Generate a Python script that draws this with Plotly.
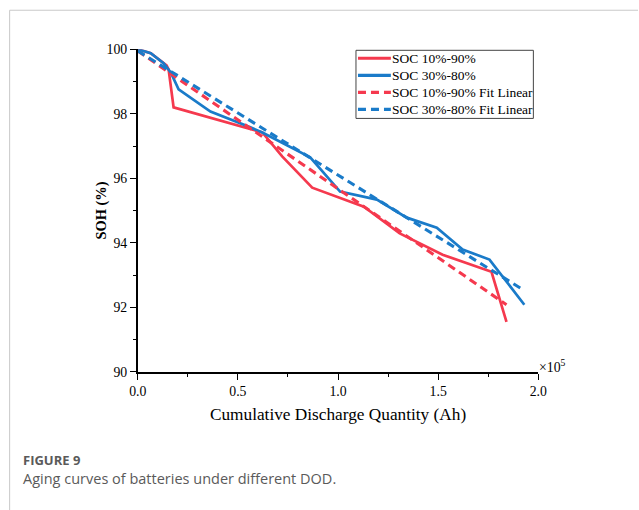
import plotly.graph_objects as go

# The page keeps an 8 px body margin and the capture is reduced to the window,
# so layout positions are given in window pixels and converted here.
OFF = 8
KX, KY = 639 / 655, 510 / 526
W, H = 647, 518
FS = 1 / ((KX + KY) / 2)  # font scale


def px(x):
    """Window x pixel -> paper fraction."""
    return (x / KX - OFF) / W


def py(y):
    """Window y pixel (from top) -> paper fraction."""
    return 1 - (y / KY - OFF) / H


# Cumulative discharge quantity (x 10^5 Ah) and state of health (%)
q_10_90 = [0.0, 0.065, 0.144, 0.154, 0.179, 0.622, 0.721, 0.871, 1.129, 1.308, 1.522, 1.766, 1.841]
soh_10_90 = [100.0, 99.88, 99.50, 99.38, 98.20, 97.42, 96.68, 95.71, 95.12, 94.29, 93.63, 93.10, 91.55]

q_30_80 = [0.0, 0.065, 0.129, 0.164, 0.204, 0.363, 0.562, 0.622, 0.861, 1.010, 1.194, 1.343, 1.493, 1.622, 1.756, 1.930]
soh_30_80 = [100.0, 99.88, 99.57, 99.29, 98.76, 98.07, 97.58, 97.42, 96.65, 95.59, 95.34, 94.78, 94.47, 93.79, 93.48, 92.08]

# Linear fit end points
fit_q_10_90 = [0.0, 1.841]
fit_soh_10_90 = [99.95, 92.08]
fit_q_30_80 = [0.0, 1.930]
fit_soh_30_80 = [99.95, 92.52]

names = ["SOC 10%-90%", "SOC 30%-80%", "SOC 10%-90% Fit Linear", "SOC 30%-80% Fit Linear"]

RED = "#F5394E"
BLUE = "#1A7BC9"
DASH = "8px,5px"

fig = go.Figure()
fig.add_trace(go.Scatter(x=q_10_90, y=soh_10_90, mode="lines", name=names[0],
                         line=dict(color=RED, width=2.7)))
fig.add_trace(go.Scatter(x=q_30_80, y=soh_30_80, mode="lines", name=names[1],
                         line=dict(color=BLUE, width=2.7)))
fig.add_trace(go.Scatter(x=fit_q_10_90, y=fit_soh_10_90, mode="lines", name=names[2],
                         line=dict(color=RED, width=3.1, dash=DASH)))
fig.add_trace(go.Scatter(x=fit_q_30_80, y=fit_soh_30_80, mode="lines", name=names[3],
                         line=dict(color=BLUE, width=3.1, dash=DASH)))

serif = "Liberation Serif, Times New Roman, serif"
sans = "Open Sans, sans-serif"

fig.update_layout(
    width=W, height=H,
    margin=dict(l=0, r=0, t=0, b=0),
    paper_bgcolor="white", plot_bgcolor="white",
    font=dict(family=serif, size=13.4 * FS, color="black"),
    showlegend=False,
    xaxis=dict(
        domain=[px(137), px(539)], range=[0, 2.0],
        showline=True, linecolor="black", linewidth=1.5,
        showgrid=False, zeroline=False,
        ticks="outside", ticklen=6, tickwidth=1.2, tickcolor="black",
        tickvals=[0, 0.5, 1.0, 1.5, 2.0], tickformat=".1f",
        minor=dict(tickvals=[0.25, 0.75, 1.25, 1.75], ticks="outside", ticklen=3, tickcolor="black"),
        tickfont=dict(family=serif, size=13.4 * FS),
        title=dict(text="Cumulative Discharge Quantity (Ah)", font=dict(family=serif, size=16.8 * FS), standoff=10),
    ),
    yaxis=dict(
        domain=[py(372), py(50)], range=[90, 100],
        showline=True, linecolor="black", linewidth=1.5,
        showgrid=False, zeroline=False,
        ticks="outside", ticklen=6, tickwidth=1.2, tickcolor="black",
        tickvals=[90, 92, 94, 96, 98, 100],
        minor=dict(tickvals=[91, 93, 95, 97, 99], ticks="outside", ticklen=3, tickcolor="black"),
        tickfont=dict(family=serif, size=13.4 * FS),
    ),
)

# Y axis title, set just left of the tick label column
fig.add_annotation(x=px(101), y=py(211), xref="paper", yref="paper",
                   text="<b>SOH (%)</b>", showarrow=False, textangle=-90,
                   xanchor="center", yanchor="middle",
                   font=dict(family=serif, size=14 * FS, color="black"))

# Legend box with line samples and labels
fig.add_shape(type="rect", xref="paper", yref="paper",
              x0=px(356), x1=px(534), y0=py(119), y1=py(51),
              line=dict(color="#444", width=1), fillcolor="white", layer="above")
legend_rows = [59, 76, 93, 110]
legend_styles = [(RED, "solid"), (BLUE, "solid"), (RED, DASH), (BLUE, DASH)]
for name, yrow, (col, dsh) in zip(names, legend_rows, legend_styles):
    fig.add_shape(type="line", xref="paper", yref="paper",
                  x0=px(358), x1=px(391), y0=py(yrow), y1=py(yrow),
                  line=dict(color=col, width=3.1, dash=dsh), layer="above")
    fig.add_annotation(x=px(390), y=py(yrow), xref="paper", yref="paper",
                       text=name, showarrow=False, xanchor="left", yanchor="middle",
                       font=dict(family=serif, size=13.5, color="black"))

# Axis multiplier label
fig.add_annotation(x=px(538), y=py(366), xref="paper", yref="paper",
                   text="×10<sup>5</sup>", showarrow=False, xanchor="left", yanchor="middle",
                   font=dict(family=serif, size=13.4 * FS, color="black"))

# Figure caption
fig.add_annotation(x=px(20), y=py(460), xref="paper", yref="paper",
                   text="<b>FIGURE 9</b>", showarrow=False, xanchor="left", yanchor="middle",
                   font=dict(family=sans, size=13, color="#5a5a5a"))
fig.add_annotation(x=px(20), y=py(479), xref="paper", yref="paper",
                   text="Aging curves of batteries under different DOD.", showarrow=False,
                   xanchor="left", yanchor="middle",
                   font=dict(family=sans, size=14.5, color="#5a5a5a"))

# Panel frame (top and left edges)
frame = dict(color="#c9c9c9", width=1)
fig.add_shape(type="line", xref="paper", yref="paper",
              x0=0.001, x1=1, y0=py(11), y1=py(11), line=frame, layer="below")
fig.add_shape(type="line", xref="paper", yref="paper",
              x0=0.001, x1=0.001, y0=0, y1=py(11), line=frame, layer="below")

fig.write_html("out.html")
